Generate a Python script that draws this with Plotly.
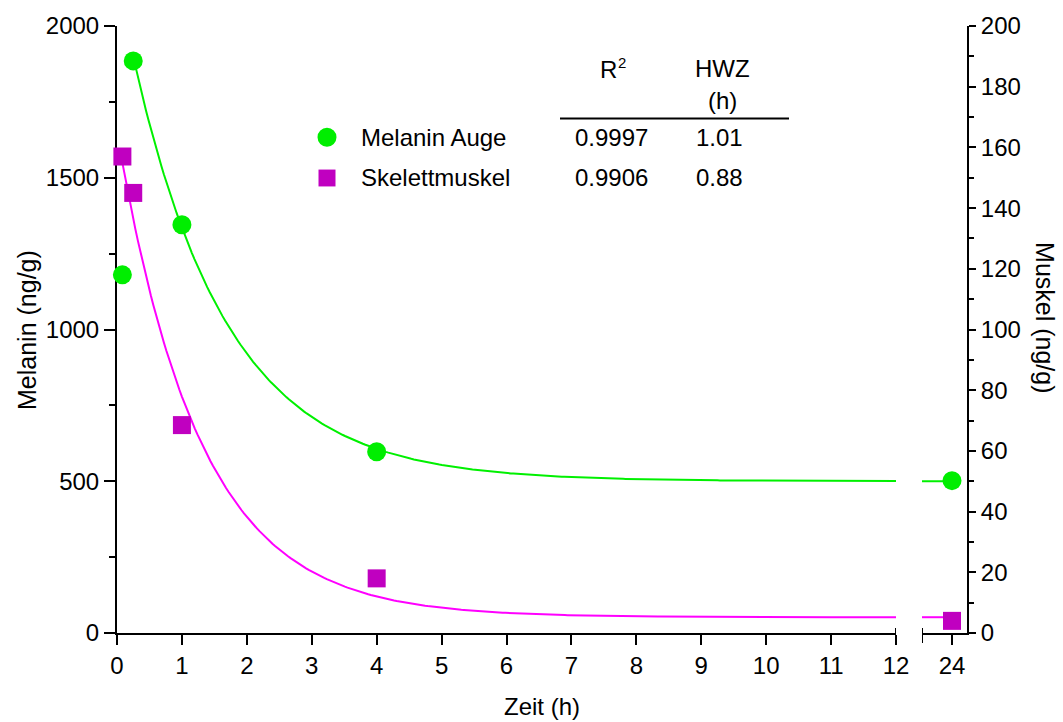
import numpy as np
import plotly.graph_objects as go

# Sampling times (h) and measured concentrations
zeit = [0.083, 0.25, 1, 4, 24]
melanin_auge = [1180, 1885, 1345, 597, 502]      # ng/g, left axis
skelettmuskel = [157, 145, 68.5, 18, 4]          # ng/g, right axis

# One-phase decay fit parameters (plateau, value at t=0, half-life)
auge_plateau, auge_y0, auge_hwz, auge_r2 = 500, 2160, 1.01, 0.9997
muskel_plateau, muskel_y0, muskel_hwz, muskel_r2 = 5.2, 165, 0.88, 0.9906

x_ticks_1 = list(range(0, 13))
x_ticks_2 = [24]

GREEN_MARK = "#00EE00"
GREEN_LINE = "#00F000"
MAG_MARK = "#C000C0"
MAG_LINE = "#FF00FF"
FONT = "Liberation Sans, Arial, sans-serif"
FS = 24

W, H = 1063, 722
ML, MR, MT, MB = 117, 96, 22, 89
PW, PH = W - ML - MR, H - MT - MB

# broken x axis: 0..12 then a short piece around 24 at the same scale
seg1_px = 779
gap_px = 26
px_per_h = seg1_px / 12
seg2_px = PW - seg1_px - gap_px
x2_lo = 24 - (seg2_px - 15) / px_per_h
x2_hi = 24 + 15 / px_per_h


def decay(t, plateau, y0, hwz):
    k = np.log(2) / hwz
    return plateau + (y0 - plateau) * np.exp(-k * t)


def px(x):
    return (x - ML) / PW


def py(y):
    return (H - MB - y) / PH


fig = go.Figure()

# fitted curves
t1_auge = np.linspace(zeit[1], 12, 300)
t1_mus = np.linspace(zeit[0], 12, 300)
t2 = np.linspace(x2_lo, 24, 20)
fig.add_trace(go.Scatter(x=t1_auge, y=decay(t1_auge, auge_plateau, auge_y0, auge_hwz),
                         mode="lines", line=dict(color=GREEN_LINE, width=2),
                         xaxis="x", yaxis="y", hoverinfo="skip"))
fig.add_trace(go.Scatter(x=t2, y=decay(t2, auge_plateau, auge_y0, auge_hwz),
                         mode="lines", line=dict(color=GREEN_LINE, width=2),
                         xaxis="x2", yaxis="y", hoverinfo="skip"))
fig.add_trace(go.Scatter(x=t1_mus, y=decay(t1_mus, muskel_plateau, muskel_y0, muskel_hwz),
                         mode="lines", line=dict(color=MAG_LINE, width=2),
                         xaxis="x", yaxis="y2", hoverinfo="skip"))
fig.add_trace(go.Scatter(x=t2, y=decay(t2, muskel_plateau, muskel_y0, muskel_hwz),
                         mode="lines", line=dict(color=MAG_LINE, width=2),
                         xaxis="x2", yaxis="y2", hoverinfo="skip"))

# measured points, split over the two axis pieces
def split(xs, ys):
    a = [(x, y) for x, y in zip(xs, ys) if x <= 12]
    b = [(x, y) for x, y in zip(xs, ys) if x > 12]
    return ([p[0] for p in a], [p[1] for p in a]), ([p[0] for p in b], [p[1] for p in b])


(ga, gb) = split(zeit, melanin_auge)
(ma, mb) = split(zeit, skelettmuskel)
for (xs, ys), xa in ((ga, "x"), (gb, "x2")):
    fig.add_trace(go.Scatter(x=xs, y=ys, mode="markers", xaxis=xa, yaxis="y",
                             marker=dict(symbol="circle", size=19, color=GREEN_MARK),
                             cliponaxis=False, name="Melanin Auge"))
for (xs, ys), xa in ((ma, "x"), (mb, "x2")):
    fig.add_trace(go.Scatter(x=xs, y=ys, mode="markers", xaxis=xa, yaxis="y2",
                             marker=dict(symbol="square", size=18, color=MAG_MARK),
                             cliponaxis=False, name="Skelettmuskel"))

axis_common = dict(showline=True, linecolor="black", linewidth=2, showgrid=False,
                   zeroline=False, ticks="outside", tickcolor="black", tickwidth=2,
                   tickfont=dict(family=FONT, size=FS, color="black"))

fig.update_layout(
    width=W, height=H,
    margin=dict(l=ML, r=MR, t=MT, b=MB, pad=0),
    paper_bgcolor="white", plot_bgcolor="white",
    showlegend=False,
    font=dict(family=FONT, size=FS, color="black"),
    xaxis=dict(domain=[0, seg1_px / PW], range=[0, 12], tickvals=x_ticks_1,
               ticklen=10, anchor="y", **axis_common),
    xaxis2=dict(domain=[(seg1_px + gap_px) / PW, 1], range=[x2_lo, x2_hi],
                tickvals=x_ticks_2, ticklen=10, anchor="y", **axis_common),
    yaxis=dict(range=[0, 2000], tickvals=[0, 500, 1000, 1500, 2000], ticklen=11,
               minor=dict(dtick=250, ticklen=6, ticks="outside", tickcolor="black", tickwidth=2),
               anchor="x", layer="below traces", **axis_common),
    yaxis2=dict(range=[0, 200], tickvals=list(range(0, 201, 20)), ticklen=7,
                minor=dict(dtick=10, ticklen=5, ticks="outside", tickcolor="black", tickwidth=2),
                overlaying="y", side="right", anchor="x2", **axis_common),
)

# end caps at the axis break
cap_up, cap_dn = 5 / PH, -10 / PH
fig.add_shape(type="line", xref="x", yref="paper", x0=12, x1=12, y0=cap_dn, y1=cap_up,
              line=dict(color="black", width=2))
fig.add_shape(type="line", xref="x2", yref="paper", x0=x2_lo, x1=x2_lo, y0=cap_dn, y1=cap_up,
              line=dict(color="black", width=2))


def label(text, x, y, anchor="center", size=FS, angle=0):
    fig.add_annotation(text=text, xref="paper", yref="paper", x=px(x), y=py(y),
                       xanchor=anchor, yanchor="middle", showarrow=False,
                       textangle=angle, font=dict(size=size))


# axis titles
label("Melanin (ng/g)", 27, 328, size=25, angle=-90)
label("Muskel (ng/g)", 1045, 315, size=25, angle=90)
label("Zeit (h)", 542, 707)

# legend with fit table
fig.add_shape(type="circle", xref="paper", yref="paper",
              x0=px(327 - 9.5), x1=px(327 + 9.5), y0=py(134 + 9.5), y1=py(134 - 9.5),
              fillcolor=GREEN_MARK, line=dict(width=0))
fig.add_shape(type="rect", xref="paper", yref="paper",
              x0=px(327 - 8.5), x1=px(327 + 8.5), y0=py(175 + 8.5), y1=py(175 - 8.5),
              fillcolor=MAG_MARK, line=dict(width=0))
fig.add_shape(type="line", xref="paper", yref="paper", x0=px(560), x1=px(789),
              y0=py(115), y1=py(115), line=dict(color="black", width=2))

# column heads: "R" with a raised "2"
label("R", 608, 66)
label("2", 622, 59, size=15)
label("HWZ", 722, 65)
label("(h)", 722, 97)
label("Melanin Auge", 359, 134, "left")
label("Skelettmuskel", 359, 175, "left")
label(f"{auge_r2:.4f}", 611, 134)
label(f"{auge_hwz:.2f}", 719, 134)
label(f"{muskel_r2:.4f}", 611, 175)
label(f"{muskel_hwz:.2f}", 719, 175)

fig.write_html("out.html")
